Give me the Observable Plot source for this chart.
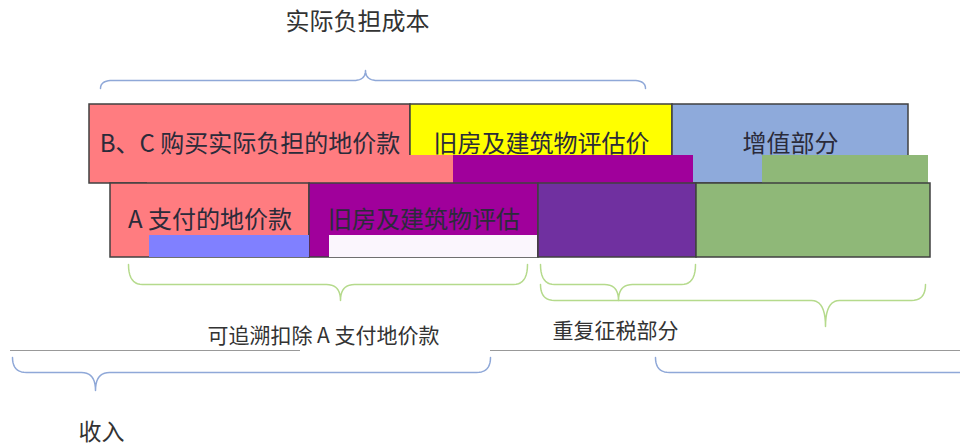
<!DOCTYPE html>
<html><head><meta charset="utf-8">
<script src="https://cdn.jsdelivr.net/npm/d3@7"></script>
<script src="https://cdn.jsdelivr.net/npm/@observablehq/plot@0.6"></script>
<style>body{margin:0;background:#fff;font-family:"Noto Sans CJK SC","Noto Sans",sans-serif}</style>
</head><body><div id="chart"></div>
<script>
// Top row segments (label, start, end)
const topLabels = ["B、C 购买实际负担的地价款", "旧房及建筑物评估价", "增值部分"];
const topStart = [89, 410, 672];
const topEnd = [410, 672, 908];
const topKind = ["land", "house", "gain"];
// Bottom row segments
const botLabels = ["A 支付的地价款", "旧房及建筑物评估", "", ""];
const botStart = [110, 309, 538, 696];
const botEnd = [309, 538, 696, 930];
const botKind = ["land", "house2", "dup", "gain2"];
// ghosted strips in the picture
const ghostStart = [147, 453, 762, 149, 329];
const ghostEnd = [453, 693, 928, 309, 537];
const ghostKind = ["land", "house2", "gain2", "ghostBlue", "ghostWhite"];
const ghostRow = ["top", "top", "top", "bot", "bot"];
// Braces: start, end, tip, level
const braceStart = [100, 128, 540, 540, 12, 655];
const braceEnd = [645, 527, 695, 925, 490, 975];
const braceTip = [365, 340, 618, 825, 95, 2000];
const braceLevel = ["top", "g1", "g1", "g2", "b", "b"];
const braceColor = ["blue", "green", "green", "green", "blue", "blue"];
// Faint rule lines in the picture
const ruleStart = [10, 490];
const ruleEnd = [300, 960];
// Annotation labels
const noteText = ["实际负担成本", "可追溯扣除 A 支付地价款", "重复征税部分", "收入"];
const noteX = [357, 323, 615, 101];
const noteLevel = ["title", "g1", "g2", "in"];

const kinds = ["land", "house", "gain", "house2", "dup", "gain2", "ghostBlue", "ghostWhite"];
const kindColors = ["#ff7c80", "#ffff00", "#8eaadb", "#a0009b", "#7030a0", "#8fb878", "#8080ff", "#fbf6fd"];

// layout (styles/positions)
const rowY = {top: [104, 183], bot: [183, 257]};
const ghostY = {top: [155, 183], bot: [235, 257]};
const braceGeom = { // yEnd, yMid, yTip, r
  top: [88, 80, 70, 12],
  g1: [264, 284, 300, 14],
  g2: [284, 300, 326, 14],
  b: [357, 372, 390, 14]
};
const ruleY = 350;
const noteY = {title: 22, g1: 336, g2: 331, in: 432};
const noteSize = {title: 24, g1: 21, g2: 21, in: 23};

const topData = topLabels.map((l, i) => ({label: l, x1: topStart[i], x2: topEnd[i], kind: topKind[i], y1: rowY.top[0], y2: rowY.top[1]}));
const botData = botLabels.map((l, i) => ({label: l, x1: botStart[i], x2: botEnd[i], kind: botKind[i], y1: rowY.bot[0], y2: rowY.bot[1]}));
const ghostData = ghostStart.map((s, i) => ({x1: s, x2: ghostEnd[i], kind: ghostKind[i], y1: ghostY[ghostRow[i]][0], y2: ghostY[ghostRow[i]][1]}));
const ruleData = ruleStart.map((s, i) => ({x1: s, x2: ruleEnd[i], y: ruleY}));

function quad(p0, c, p1, n = 10) {
  const pts = [];
  for (let k = 0; k <= n; k++) {
    const t = k / n;
    pts.push([(1-t)*(1-t)*p0[0] + 2*(1-t)*t*c[0] + t*t*p1[0], (1-t)*(1-t)*p0[1] + 2*(1-t)*t*c[1] + t*t*p1[1]]);
  }
  return pts;
}
const braceData = [];
braceStart.forEach((x1, i) => {
  const x2 = braceEnd[i], xt = braceTip[i];
  const [ye, ym, yt, r] = braceGeom[braceLevel[i]];
  let pts = [];
  pts = pts.concat(quad([x1, ye], [x1, ym], [x1 + r, ym]));
  if (xt > x1 && xt < x2) {
    pts = pts.concat(quad([xt - r, ym], [xt, ym], [xt, yt]));
    pts = pts.concat(quad([xt, yt], [xt, ym], [xt + r, ym]));
  }
  pts = pts.concat(quad([x2 - r, ym], [x2, ym], [x2, ye]));
  pts.forEach(p => braceData.push({id: i, x: p[0], y: p[1], c: braceColor[i]}));
});
const noteData = noteText.map((t, i) => ({text: t, x: noteX[i], y: noteY[noteLevel[i]], size: noteSize[noteLevel[i]]}));

const labelData = [...topData, ...botData].filter(d => d.label).map(d => ({text: d.label, x: (d.x1 + d.x2) / 2, y: (d.y1 + d.y2) / 2}));

const chart = Plot.plot({
  width: 960, height: 448, margin: 0,
  x: {domain: [0, 960], range: [0, 960], axis: null},
  y: {domain: [0, 448], range: [0, 448], axis: null},
  color: {domain: kinds, range: kindColors},
  style: {fontFamily: '"Noto Sans CJK SC", sans-serif', background: "#fff"},
  marks: [
    Plot.rect(topData, {x1: "x1", x2: "x2", y1: "y1", y2: "y2", fill: "kind", stroke: "#404040", strokeWidth: 1.5}),
    Plot.rect(ghostData.filter(d => d.y1 < 183), {x1: "x1", x2: "x2", y1: "y1", y2: "y2", fill: "kind"}),
    Plot.rect(botData, {x1: "x1", x2: "x2", y1: "y1", y2: "y2", fill: "kind", stroke: "#404040", strokeWidth: 1.5}),
    Plot.rect(ghostData.filter(d => d.y1 >= 183), {x1: "x1", x2: "x2", y1: "y1", y2: "y2", fill: "kind"}),
    Plot.text(labelData, {x: "x", y: "y", text: "text", fontSize: 24, fill: "#2b2b3a"}),
    Plot.ruleY(ruleData, {x1: "x1", x2: "x2", y: "y", stroke: "#999", strokeWidth: 1}),
    Plot.line(braceData.filter(d => d.c === "blue"), {x: "x", y: "y", z: "id", stroke: "#8fa8d8", strokeWidth: 1.5}),
    Plot.line(braceData.filter(d => d.c === "green"), {x: "x", y: "y", z: "id", stroke: "#b5da8c", strokeWidth: 1.5}),
    Plot.text(noteData, {x: "x", y: "y", text: "text", fontSize: d => d.size, fill: "#333"})
  ]
});
document.getElementById("chart").appendChild(chart);
</script></body></html>
